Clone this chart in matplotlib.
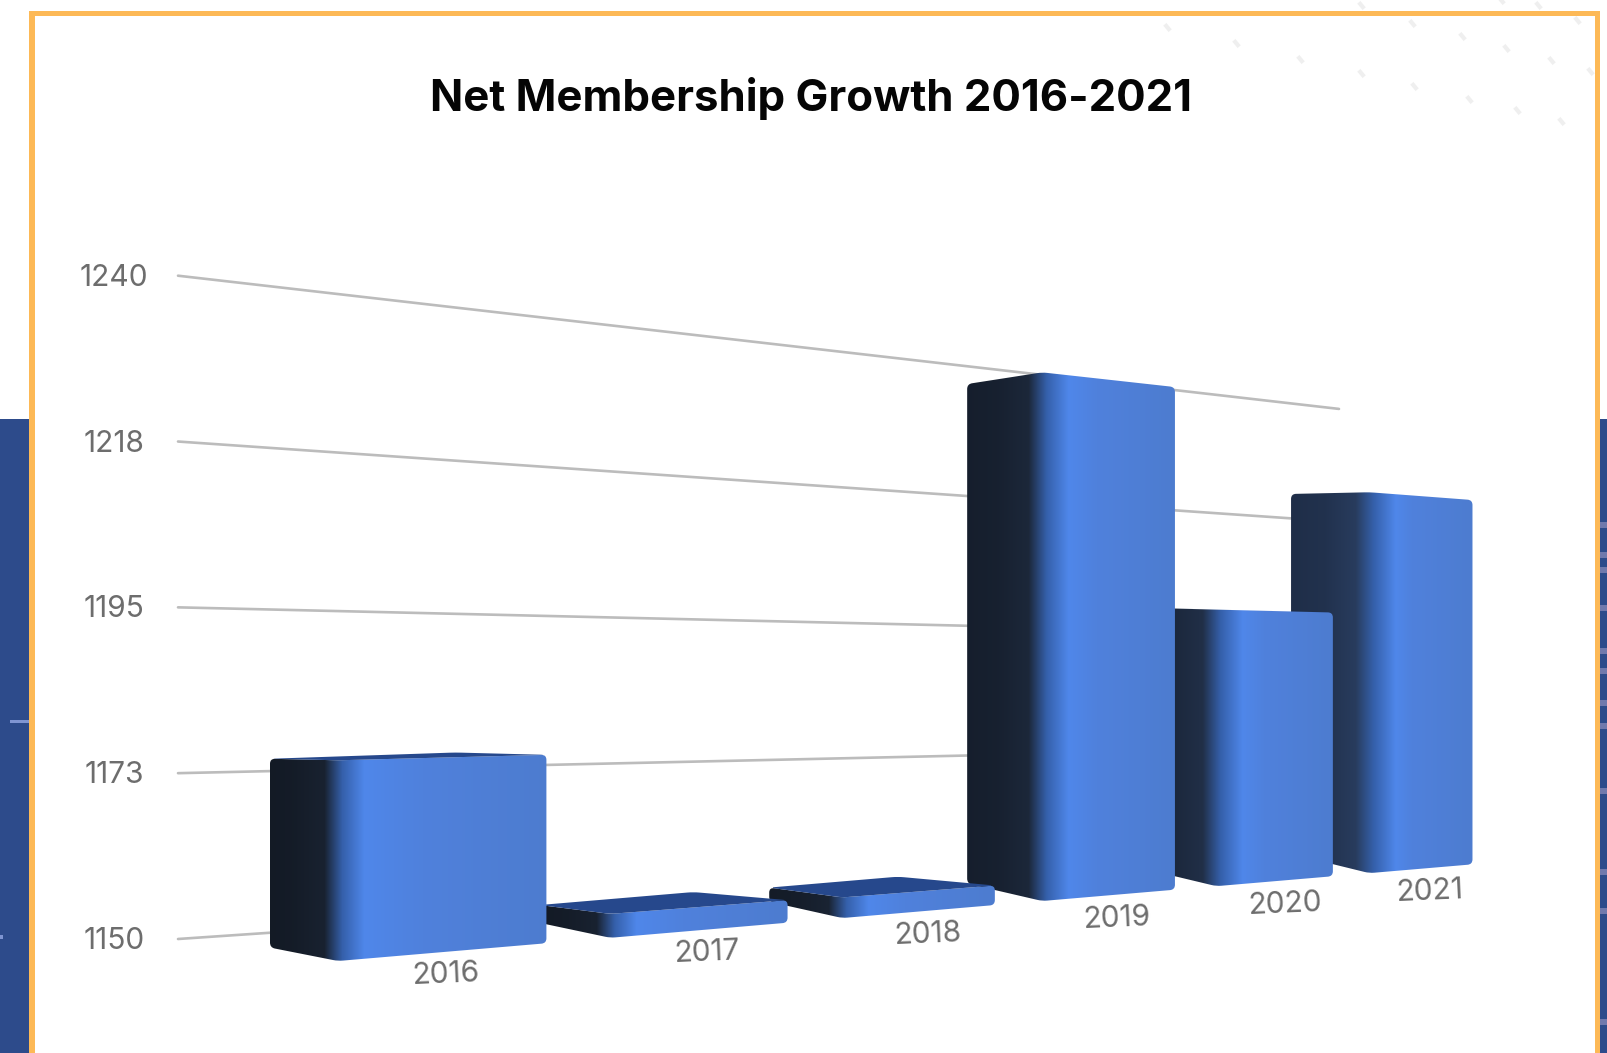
import numpy as np
import matplotlib
matplotlib.use("Agg")
import matplotlib.pyplot as plt
from matplotlib.patches import Rectangle, PathPatch
from matplotlib.path import Path

W, H = 1607, 1053

# --- chart data ---
TITLE = "Net Membership Growth 2016-2021"
years = ["2016", "2017", "2018", "2019", "2020", "2021"]
members = [1172.4, 1152.9, 1152.7, 1224.4, 1191.6, 1211]
axis_ticks = [1150, 1172.5, 1195, 1217.5, 1240]
axis_labels = ["1150", "1173", "1195", "1218", "1240"]
axis_base = 1150

# --- decoration data ---
dot_x = [1167, 1236, 1300, 1361, 1414, 1469, 1517, 1561, 1412, 1462, 1506, 1551, 1590, 1361, 1501, 1538, 1577]
dot_y = [27, 43, 59, 73, 86, 99, 110, 121, 23, 36, 48, 60, 71, 5, 0, 5, 20]
streak_y = [522, 552, 567, 605, 648, 668, 700, 723, 788, 869, 908, 1019]
year_label_nudge = [-3, 3, 5, 5, 9, 8]

# --- perspective of the 3-D chart ---
PX0, PY0, PXS, PC = 338.0, 961.0, 296.0, 0.087      # front plane, left corner and foreshortening
BASE_SLOPE = -0.0852
FRONT_UNIT = 8.96                                    # px per member at X = 0
BAR_W = 0.75
WALL_X0, WALL_X1 = 178.0, 1339.0
WALL_Y0, WALL_UNIT = 939.0, 7.37
VP_X, VP_Y = 3806.0, 692.0


def front(X, v):
    """Front plane of the bars: category position and value to picture."""
    x = PX0 + PXS * X / (1 + PC * X)
    y = PY0 + BASE_SLOPE * (x - PX0) - (v - axis_base) * FRONT_UNIT / (1 + PC * X)
    return np.array([x, y])


def depth(p, k=1.0, ky=1.0):
    """Offset from a front corner to the corner behind it."""
    x, y = p
    dx = -(68 + 0.01 * (x - PX0)) * k
    horizon = 717 - 0.188 * (x - PX0)
    return p + np.array([dx, (horizon - y) * 0.055 * ky])


def wall(x, v):
    """Back wall: straight lines through a far vanishing point."""
    y0 = WALL_Y0 - (v - axis_base) * WALL_UNIT
    return y0 + (VP_Y - y0) * (x - WALL_X0) / (VP_X - WALL_X0)


def rounded(points, radius):
    """Closed path through the points, each corner eased by a quadratic curve."""
    verts, codes = [], []
    n = len(points)
    for j, p in enumerate(points):
        a, b = points[j - 1], points[(j + 1) % n]
        la, lb = np.linalg.norm(a - p), np.linalg.norm(b - p)
        r = min(radius, 0.4 * la, 0.4 * lb)
        verts += [p + (a - p) * r / la, p, p + (b - p) * r / lb]
        codes += [Path.MOVETO if j == 0 else Path.LINETO, Path.CURVE3, Path.CURVE3]
    verts.append(verts[0])
    codes.append(Path.CLOSEPOLY)
    return Path(verts, codes)


plt.rcParams["font.family"] = ["Inter", "DejaVu Sans"]
fig = plt.figure(figsize=(W / 100, H / 100), dpi=100, facecolor="white")
ax = fig.add_axes([0, 0, 1, 1])
ax.set_axis_off()

# backdrop panels, frame, faint dots
PANEL = "#2d4b8b"
ax.add_patch(Rectangle((0, 419), 30, H - 419, fc=PANEL, ec="none", zorder=1))
ax.add_patch(Rectangle((1599, 419), 8, H - 419, fc=PANEL, ec="none", zorder=1))
ax.scatter(dot_x, dot_y, marker=(2, 0, 40), s=36, linewidths=3, color="#efefef", zorder=1)
for y in streak_y:
    ax.add_patch(Rectangle((1600, y), 7, 6, fc="#7079ad", ec="none", zorder=1.1))
ax.add_patch(Rectangle((10, 720), 20, 3, fc="#7f95d2", ec="none", zorder=1.1))
ax.add_patch(Rectangle((0, 935), 3, 4, fc="#7f95d2", ec="none", zorder=1.1))
FRAME = "#fdb956"
ax.add_patch(Rectangle((29, 10.5), 5.5, H, fc=FRAME, ec="none", zorder=2))
ax.add_patch(Rectangle((1594.5, 10.5), 5.5, H, fc=FRAME, ec="none", zorder=2))
ax.add_patch(Rectangle((29, 10.5), 1571, 5.5, fc=FRAME, ec="none", zorder=2))

# gridlines and axis labels; the base line disappears behind the first bar
for v, lab in zip(axis_ticks, axis_labels):
    x_end = WALL_X1 if v > axis_base else depth(front(0, axis_base))[0] + 8
    ax.plot([WALL_X0, x_end], [wall(WALL_X0, v), wall(x_end, v)], color="#bcbcbc", lw=1.9,
            solid_capstyle="round", zorder=3)
    ax.text(114, wall(WALL_X0, v) + 2, lab, ha="center", va="center", fontsize=21.5,
            color="#6d6d6d", zorder=3)

# bars, right to left so that nearer ones overlap
for i in range(len(members) - 1, -1, -1):
    v = members[i]
    fl_b, fl_t = front(i, axis_base), front(i, v)
    fr_b, fr_t = front(i + BAR_W, axis_base), front(i + BAR_W, v)
    bl_b = depth(fl_b)
    bl_t = depth(fl_t)
    if bl_t[1] < fl_t[1]:                     # top seen from above: flatter top face
        bl_t = depth(fl_t, 1.0, 0.65)
    back = depth(fr_t, 1.3, 0.55)
    from_above = back[1] < fr_t[1]

    mix = (i / (len(members) - 1)) ** 3
    dark = np.array([0x13, 0x1a, 0x25]) * (1 - mix) + np.array([0x1f, 0x2e, 0x48]) * mix
    xl, xr, xm = bl_t[0] - 3, fr_t[0] + 2, fl_t[0]
    cols = np.arange(int(xl), int(xr) + 1)
    w = xr - xm
    pos = [xl, xm - 45, xm - 14, xm + 4, xm + 26, xm + 0.4 * w, xr]
    rgb = np.array([dark, dark * 1.08, dark * 1.3,
                    [0x35, 0x60, 0xab], [0x4f, 0x87, 0xea], [0x50, 0x81, 0xdc], [0x4d, 0x7c, 0xcf]])
    grad = np.stack([np.interp(cols, pos, rgb[:, c]) for c in range(3)], axis=-1) / 255
    im = ax.imshow(grad[None, :, :], extent=(cols[0], cols[-1] + 1, 0, H), aspect="auto",
                   interpolation="bilinear", zorder=5 + (5 - i))
    outline = PathPatch(rounded([bl_t, fl_t, fr_t, fr_b, fl_b, bl_b], 5), transform=ax.transData)
    im.set_clip_path(outline)

    # top face, only where the bar top lies below eye level
    if from_above:
        ax.add_patch(PathPatch(rounded([bl_t, back, fr_t, fl_t], 6), fc="#26488c",
                               ec="none", zorder=5 + (5 - i)))

    c = front(i + 0.4, axis_base)
    ax.text(c[0] + year_label_nudge[i] - 3, c[1] + 23.5, years[i], ha="center", va="center",
            fontsize=21.5, color="#6d6d6d",
            rotation=np.degrees(np.arctan(-BASE_SLOPE * 0.5)), rotation_mode="anchor", zorder=12)

ax.text(811, 98, TITLE, ha="center", va="center", fontsize=31.5, fontweight="bold",
        color="#050505", zorder=12)

ax.set_xlim(0, W)
ax.set_ylim(H, 0)
fig.savefig("out.png", dpi=100, facecolor="white")
